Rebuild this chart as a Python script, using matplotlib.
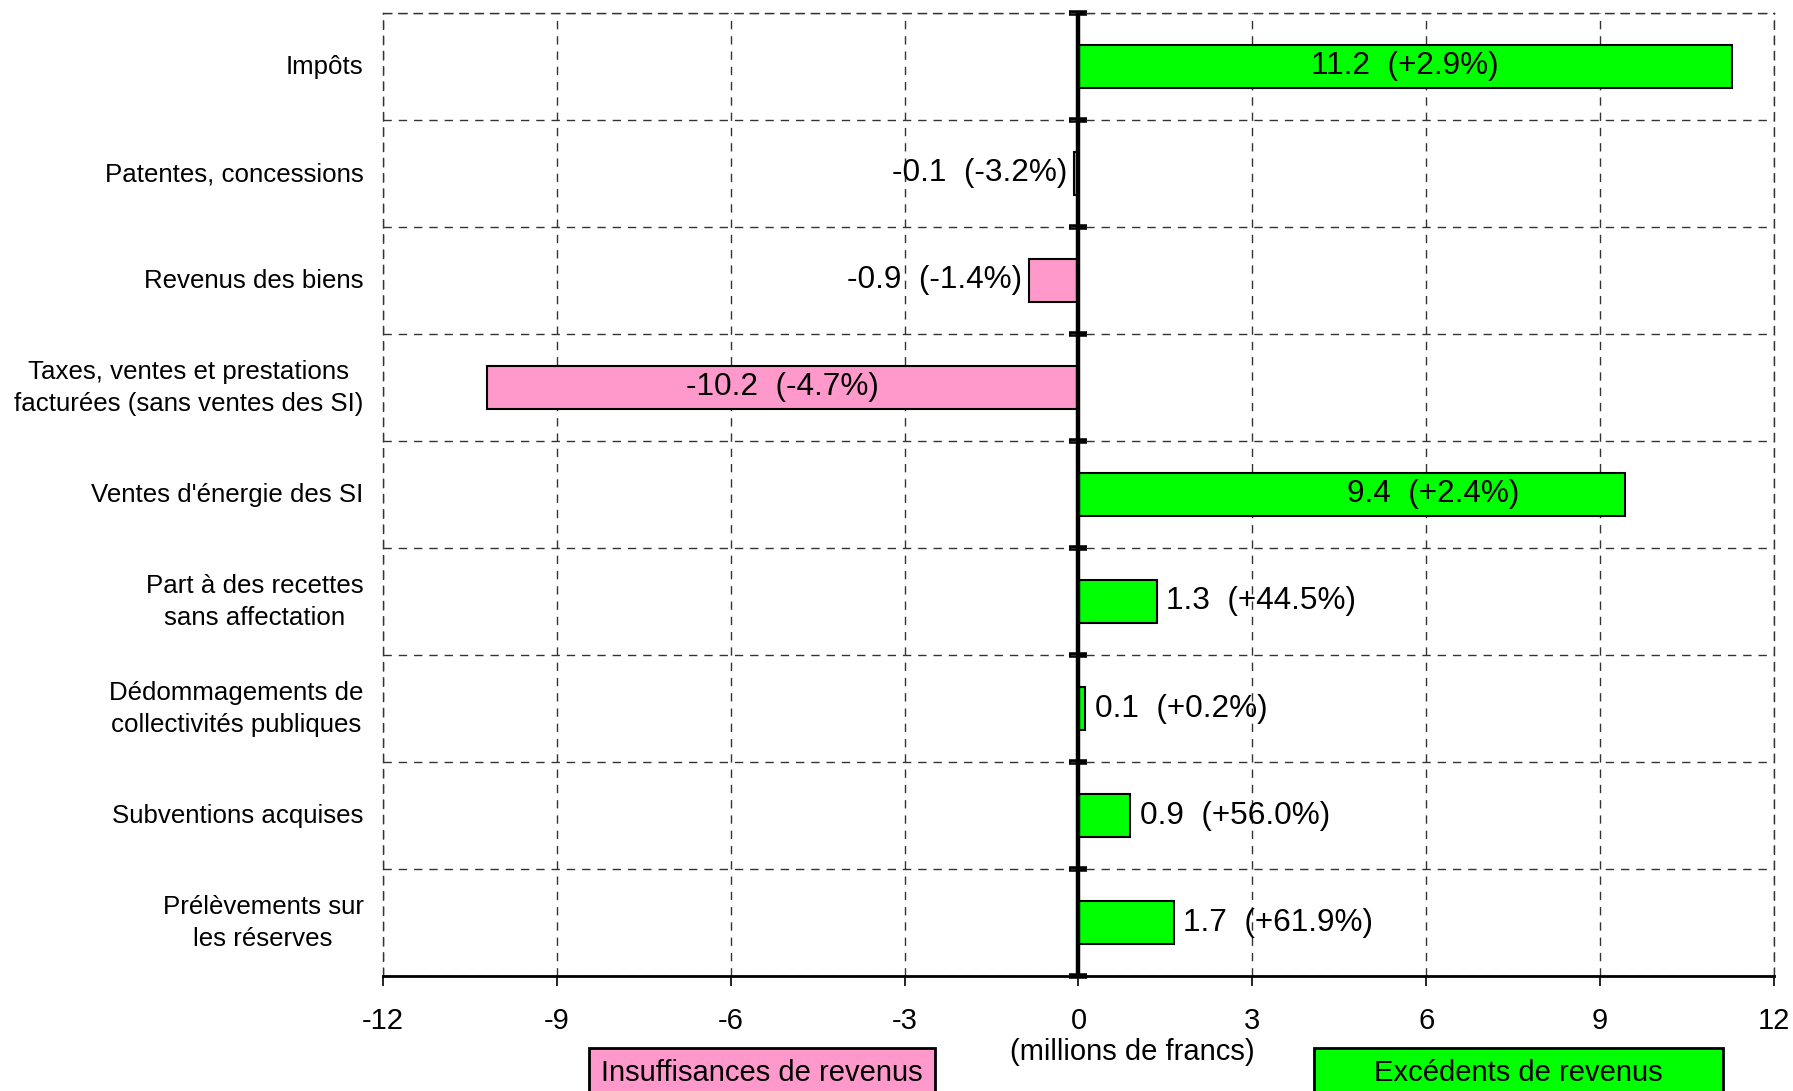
import matplotlib
matplotlib.use('Agg')
from matplotlib import pyplot as plt
from matplotlib.patches import Rectangle
import numpy as np

plt.rcParams['font.family'] = ['Liberation Sans', 'DejaVu Sans']

categories = ['Impôts',
              'Patentes, concessions',
              'Revenus des biens',
              'Taxes, ventes et prestations\nfacturées (sans ventes des SI)',
              "Ventes d'énergie des SI",
              'Part à des recettes\nsans affectation',
              'Dédommagements de\ncollectivités publiques',
              'Subventions acquises',
              'Prélèvements sur\nles réserves']
# ecart en millions de francs (longueur des barres)
ecarts = [11.27, -0.08, -0.86, -10.2, 9.43, 1.35, 0.12, 0.89, 1.64]
# textes affiches
ecarts_txt = ['11.2', '-0.1', '-0.9', '-10.2', '9.4', '1.3', '0.1', '0.9', '1.7']
pct_txt = ['+2.9%', '-3.2%', '-1.4%', '-4.7%', '+2.4%', '+44.5%', '+0.2%', '+56.0%', '+61.9%']
x_ticks = [-12, -9, -6, -3, 0, 3, 6, 9, 12]

PINK = '#FF99CC'
GREEN = '#00FF00'
DASH = (0, (6, 5))


def plot_ecarts():
    fig = plt.figure(figsize=(17.93, 10.91), dpi=100)
    ax = fig.add_axes([0.2136, 0.1054, 0.7758, 0.8827])

    y = np.arange(len(categories))
    colors = [GREEN if v >= 0 else PINK for v in ecarts]
    ax.barh(y, ecarts, height=0.4, color=colors, edgecolor='black', linewidth=1.5, zorder=3)

    ax.set_xlim(x_ticks[0], x_ticks[-1])
    ax.set_ylim(len(categories) - 0.5, -0.5)
    ax.set_xticks(x_ticks)
    ax.set_xticklabels([str(t) for t in x_ticks], fontsize=21)
    ax.tick_params(axis='x', direction='out', length=7, width=1.2, pad=15)

    # libelles des categories
    ax.set_yticks(y)
    ax.set_yticklabels([])
    for i, cat in enumerate(categories):
        ax.annotate(cat, (0, i), xycoords=('axes fraction', 'data'),
                    xytext=(-14, -0.5), textcoords='offset points',
                    ha='right', va='center', multialignment='center',
                    linespacing=1.45, fontsize=18.6)
    bounds = np.arange(len(categories) + 1) - 0.5
    ax.set_yticks(bounds, minor=True)
    ax.tick_params(axis='y', which='both', length=0)

    ax.grid(axis='x', which='major', color='#333333', linestyle=DASH, linewidth=1)
    ax.grid(axis='y', which='minor', color='#333333', linestyle=DASH, linewidth=1)
    ax.set_axisbelow(True)

    for side in ['left', 'top', 'right']:
        ax.spines[side].set_linestyle(DASH)
        ax.spines[side].set_linewidth(1)
        ax.spines[side].set_color('#333333')
    ax.spines['bottom'].set_linewidth(2)

    # axe vertical a zero avec graduations aux limites des categories
    ax.axvline(0, color='black', linewidth=3.2, zorder=5)
    zero_ax = ax.secondary_yaxis(0.5)
    zero_ax.spines['left'].set_visible(False)
    zero_ax.set_yticks(bounds)
    zero_ax.set_yticklabels([])
    zero_ax.tick_params(direction='inout', length=13, width=4)

    for i, v in enumerate(ecarts):
        txt = f'{ecarts_txt[i]}  ({pct_txt[i]})'
        if abs(v) > 5:
            xc = v / 2
            if i == 4:
                xc += 1.4  # texte decale dans la barre, comme l'original
            ax.text(xc, i, txt, ha='center', va='center', fontsize=22.7, zorder=4)
        elif v >= 0:
            ax.annotate(txt, (v, i), xytext=(7, 0), textcoords='offset points',
                        ha='left', va='center', fontsize=22.7, zorder=4)
        else:
            ax.annotate(txt, (v, i), xytext=(-5, 0), textcoords='offset points',
                        ha='right', va='center', fontsize=22.7, zorder=4)

    fig.text(0.6315, 0.0357, '(millions de francs)', ha='center', va='center', fontsize=21)

    # boites de legende en bas
    for x0, x1, col, lab in [(0.3285, 0.5215, PINK, 'Insuffisances de revenus'),
                             (0.7329, 0.9610, GREEN, 'Excédents de revenus')]:
        fig.patches.append(Rectangle((x0, -0.05), x1 - x0, 0.0894, transform=fig.transFigure,
                                     facecolor=col, edgecolor='black', linewidth=2))
        fig.text((x0 + x1) / 2, 0.0165, lab, ha='center', va='center', fontsize=21)

    fig.savefig('out.png', dpi=100)
    plt.close(fig)


if __name__ == '__main__':
    plot_ecarts()
